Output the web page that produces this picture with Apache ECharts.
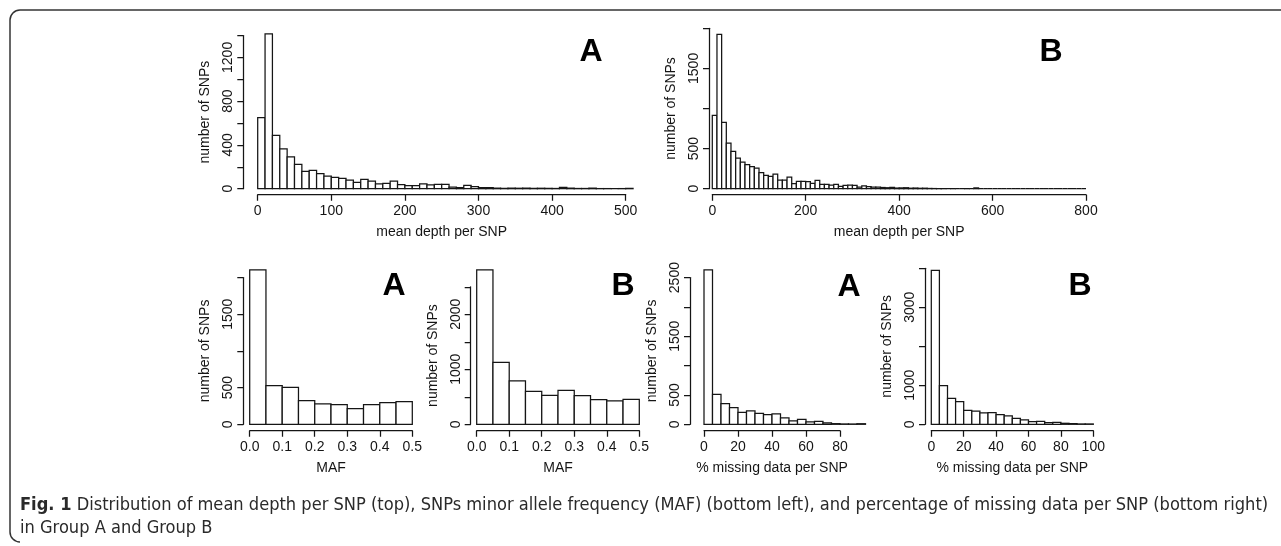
<!DOCTYPE html>
<html><head><meta charset="utf-8">
<script src="https://cdn.jsdelivr.net/npm/echarts@6/dist/echarts.min.js"></script>
<style>html,body{margin:0;padding:0;background:#fff}#c{width:1281px;height:546px}</style>
</head><body><div id="c"></div>
<script>
// ---------------- DATA ----------------
const depthBinWidth = 10;
const depthA = [649,1414,487,363,290,222,158,168,137,116,104,94,79,58,85,70,43,49,70,37,27,27,43,34,40,40,15,10,30,20,10,10,5,3,5,4,5,3,4,3,2,12,5,2,2,5,1,1,0,1,3];
const depthB = [914,1924,827,569,465,382,332,299,274,258,200,166,154,183,108,108,145,62,91,91,87,66,104,55,55,45,55,30,40,45,40,20,35,25,20,20,15,12,18,8,10,12,6,8,5,6,3,2,1,1,0,1,0,0,1,0,10,0,0,0,0,0,0,0,0,0,0,0,0,0,0,0,0,0,0,0,0,0,0,0];
const mafBinWidth = 0.05;
const mafA = [2105,527,505,323,277,268,214,268,295,309];
const mafB = [2806,1127,788,600,527,618,521,448,424,455];
const missBinWidth = 5;
const missA = [2630,511,352,284,205,227,188,165,176,108,57,85,40,51,23,11,6,5,10];
const missB = [3947,989,665,580,358,341,290,298,247,213,153,111,68,77,43,51,26,17,9,9];

const depthATicks = [0,400,800,1200];
const depthBTicks = [0,500,1500];
const mafATicks = [0,500,1500];
const mafBTicks = [0,1000,2000];
const missATicks = [0,500,1500,2500];
const missBTicks = [0,1000,3000];

const xTitleDepth = 'mean depth per SNP';
const xTitleMaf = 'MAF';
const xTitleMiss = '% missing data per SNP';
const yTitle = 'number of SNPs';
const captionBold = 'Fig. 1';
const captionLine1 = ' Distribution of mean depth per SNP (top), SNPs minor allele frequency (MAF) (bottom left), and percentage of missing data per SNP (bottom right)';
const captionLine2 = 'in Group A and Group B';

// ---------------- LAYOUT ----------------
const panels = [
  {bins:depthA, bw:depthBinWidth, xMax:500, xStep:100, xDataMax:510, yMax:1400, yStep:200, yShow:depthATicks, xt:xTitleDepth, letter:'A',
   x0:257.7, x1:625.7, y0:188.7, yTop:35.5, yAxisX:243.3, xAxisY:194.7, lx:591, ly:52, dec:0},
  {bins:depthB, bw:depthBinWidth, xMax:800, xStep:200, xDataMax:800, yMax:2000, yStep:500, yShow:depthBTicks, xt:xTitleDepth, letter:'B',
   x0:712.3, x1:1086, y0:188.7, yTop:28.3, yAxisX:709, xAxisY:194.7, lx:1051, ly:52, dec:0},
  {bins:mafA, bw:mafBinWidth, xMax:0.5, xStep:0.1, xDataMax:0.5, yMax:2000, yStep:500, yShow:mafATicks, xt:xTitleMaf, letter:'A',
   x0:249.7, x1:412.3, y0:424.3, yTop:277.6, yAxisX:243.3, xAxisY:430.7, lx:394, ly:286, dec:1},
  {bins:mafB, bw:mafBinWidth, xMax:0.5, xStep:0.1, xDataMax:0.5, yMax:2500, yStep:500, yShow:mafBTicks, xt:xTitleMaf, letter:'B',
   x0:476.7, x1:639.3, y0:424.3, yTop:286.8, yAxisX:470.7, xAxisY:430.7, lx:623, ly:286, dec:1},
  {bins:missA, bw:missBinWidth, xMax:80, xStep:20, xDataMax:95, yMax:2500, yStep:500, yShow:missATicks, xt:xTitleMiss, letter:'A',
   x0:704, x1:840, y0:424.3, yTop:277.6, yAxisX:690, xAxisY:430.7, lx:849, ly:287, dec:0},
  {bins:missB, bw:missBinWidth, xMax:100, xStep:20, xDataMax:100, yMax:4000, yStep:1000, yShow:missBTicks, xt:xTitleMiss, letter:'B',
   x0:931.3, x1:1093.3, y0:424.3, yTop:268.3, yAxisX:925, xAxisY:430.7, lx:1080, ly:286, dec:0}
];

const INK = '#151515';
const FONT = '"Liberation Sans", Arial, sans-serif';

const grid = [], xAxis = [], yAxis = [], series = [], graphic = [];
panels.forEach((p) => {
  const pxPerX = (p.x1 - p.x0) / p.xMax;
  const gBars = grid.length;
  grid.push({left:p.x0, top:p.yTop, width:p.xDataMax * pxPerX, height:p.y0 - p.yTop});
  xAxis.push({gridIndex:gBars, type:'value', min:0, max:p.xDataMax, show:false});
  yAxis.push({gridIndex:gBars, type:'value', min:0, max:p.yMax, show:false});
  const axIdx = xAxis.length - 1;
  const bw = p.bw;
  series.push({
    type:'custom', coordinateSystem:'cartesian2d', xAxisIndex:axIdx, yAxisIndex:axIdx, clip:false, silent:true,
    data:p.bins.map((v,i) => [i*bw, v]),
    encode:{x:0, y:1},
    renderItem:(params, api) => {
      const x = api.value(0), h = api.value(1);
      const a = api.coord([x, 0]), b = api.coord([x + bw, h]);
      return {type:'rect', shape:{x:a[0], y:b[1], width:b[0]-a[0], height:a[1]-b[1]},
              style:{fill:'#fff', stroke:INK, lineWidth:1.25}};
    }
  });
  const gX = grid.length;
  grid.push({left:p.x0, top:p.xAxisY - 1, width:p.x1 - p.x0, height:1});
  xAxis.push({gridIndex:gX, type:'value', min:0, max:p.xMax, interval:p.xStep, position:'bottom',
    axisLine:{show:true, lineStyle:{color:INK, width:1.25}},
    axisTick:{show:true, length:6, lineStyle:{color:INK, width:1.25}},
    splitLine:{show:false},
    axisLabel:{show:true, color:INK, fontSize:14, fontFamily:FONT, margin:9, showMinLabel:true, showMaxLabel:true,
      formatter:(v) => p.dec ? v.toFixed(p.dec) : String(Math.round(v))},
    name:p.xt, nameLocation:'middle', nameGap:30,
    nameTextStyle:{color:INK, fontSize:14, fontFamily:FONT}
  });
  yAxis.push({gridIndex:gX, type:'value', show:false, min:0, max:1});
  const gY = grid.length;
  grid.push({left:p.yAxisX, top:p.yTop, width:1, height:p.y0 - p.yTop});
  xAxis.push({gridIndex:gY, type:'value', show:false, min:0, max:1});
  yAxis.push({gridIndex:gY, type:'value', min:0, max:p.yMax, interval:p.yStep, position:'left',
    axisLine:{show:true, lineStyle:{color:INK, width:1.25}},
    axisTick:{show:true, length:6, lineStyle:{color:INK, width:1.25}},
    splitLine:{show:false},
    axisLabel:{show:true, rotate:90, color:INK, fontSize:14, fontFamily:FONT, margin:8, showMinLabel:true, showMaxLabel:true,
      formatter:(v) => p.yShow.includes(Math.round(v)) ? String(Math.round(v)) : ''},
    name:yTitle, nameLocation:'middle', nameGap:31, nameRotate:90,
    nameTextStyle:{color:INK, fontSize:14, fontFamily:FONT}
  });
  graphic.push({type:'text', x:p.lx, y:p.ly, silent:true,
    style:{text:p.letter, fill:'#000', font:'bold 32px ' + FONT, align:'center', verticalAlign:'middle'}});
});

function hasFont(f){
  const c = document.createElement('canvas').getContext('2d');
  const t = 'abcdefghijklmnopqrstuvwxyzABCDEFGHIJ0123456789';
  c.font = '40px monospace'; const w1 = c.measureText(t).width;
  c.font = '40px "' + f + '", monospace'; const w2 = c.measureText(t).width;
  return w1 !== w2;
}
const capFam = ['Liberation Sans Narrow','DejaVu Sans Condensed','Open Sans','Noto Sans'].find(hasFont) || 'sans-serif';
const mctx = document.createElement('canvas').getContext('2d');
mctx.font = 'bold 15px "' + capFam + '"'; const wb = mctx.measureText(captionBold).width;
mctx.font = '15px "' + capFam + '"'; const wr = mctx.measureText(captionLine1).width;
const capSize = Math.min(18.5, 15 * 1249 / (wb + wr));
const capFont = capSize.toFixed(2) + 'px "' + capFam + '"';

graphic.push({type:'text', x:20, y:505, silent:true,
  style:{text:'{b|' + captionBold + '}' + captionLine1, fill:'#2a2a2a', font:capFont, verticalAlign:'middle',
    rich:{b:{font:'bold ' + capFont, fill:'#2a2a2a'}}}});
graphic.push({type:'text', x:20, y:528, silent:true,
  style:{text:captionLine2, fill:'#2a2a2a', font:capFont, verticalAlign:'middle'}});
// figure frame
const FR = '#333';
graphic.push({type:'line', silent:true, shape:{x1:20, y1:10, x2:1281, y2:10}, style:{stroke:FR, lineWidth:1.5}});
graphic.push({type:'line', silent:true, shape:{x1:10, y1:20, x2:10, y2:532}, style:{stroke:FR, lineWidth:1.5}});
graphic.push({type:'arc', silent:true, shape:{cx:20, cy:20, r:10, startAngle:Math.PI, endAngle:Math.PI*1.5}, style:{stroke:FR, lineWidth:1.5, fill:null}});
graphic.push({type:'arc', silent:true, shape:{cx:20, cy:532, r:10, startAngle:Math.PI*0.5, endAngle:Math.PI}, style:{stroke:FR, lineWidth:1.5, fill:null}});

const chart = echarts.init(document.getElementById('c'), null, {renderer:'canvas'});
chart.setOption({animation:false, backgroundColor:'#fff', grid, xAxis, yAxis, series, graphic});
</script></body></html>
